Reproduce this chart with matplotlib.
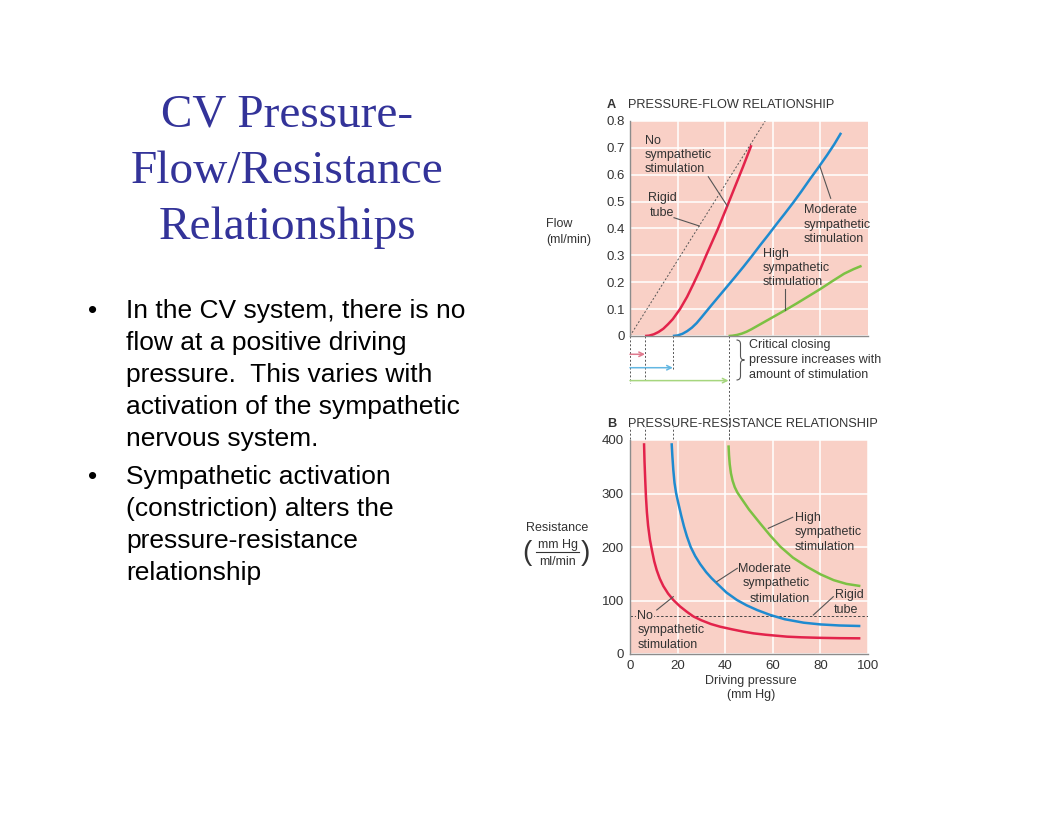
import matplotlib
matplotlib.use("Agg")
import matplotlib.pyplot as plt
from matplotlib.lines import Line2D
from matplotlib.patches import PathPatch
from matplotlib.path import Path

# ---------------- data ----------------
# Panel A: pressure (mm Hg) vs flow (ml/min)
red_A_P = [6.3, 8, 10, 12, 14, 16, 18, 21, 24, 26.7, 29.5, 32, 34.5, 37, 40.7, 44, 47.5, 51]
red_A_F = [0, 0.0013, 0.0063, 0.015, 0.027, 0.044, 0.063, 0.10, 0.146, 0.195, 0.248,
           0.30, 0.35, 0.40, 0.48, 0.553, 0.63, 0.71]

blue_A_P = [18, 20, 22, 24, 26, 28, 30, 33.7, 37, 40.7, 44, 47.7, 51, 54.7, 58, 61.8,
            65, 68.8, 72, 75.8, 79, 82.8, 85.8, 88.7]
blue_A_F = [0, 0.002, 0.008, 0.018, 0.031, 0.048, 0.069, 0.109, 0.144, 0.183, 0.218,
            0.258, 0.295, 0.338, 0.375, 0.419, 0.455, 0.499, 0.538, 0.586, 0.625,
            0.673, 0.713, 0.756]

green_A_P = [41.4, 43, 45, 47, 49, 51, 53, 55, 58, 61, 65, 70, 75, 80, 85, 90, 94, 97.3]
green_A_F = [0, 0.001, 0.004, 0.009, 0.016, 0.025, 0.035, 0.045, 0.06, 0.075, 0.095,
             0.121, 0.148, 0.175, 0.204, 0.232, 0.249, 0.261]

rigid_P = [0, 56.8]
rigid_F = [0, 0.8]

# Panel B: pressure (mm Hg) vs resistance (mm Hg / ml/min)
red_B_P = [5.9, 6.1, 6.4, 6.7, 7.1, 7.6, 8.4, 9.3, 10.2, 11.2, 12.5, 14, 16, 18.2, 21,
           24, 26.7, 30, 34, 37.9, 43, 48, 51.9, 57, 62, 66, 72, 80, 88, 96.8]
red_B_R = [394, 360, 325, 294, 265, 240, 213, 192, 173, 157, 141, 127, 113, 101, 89,
           78.5, 70, 63, 56, 51, 46, 41.5, 38.6, 36, 34, 32.4, 31.2, 30.2, 29.6, 29.3]

blue_B_P = [17.5, 17.8, 18.2, 18.7, 19.4, 20.3, 21.5, 22.7, 23.9, 25.5, 27.4, 29.5, 32,
            34.2, 36.5, 40.5, 44.9, 49, 53.5, 58.9, 65, 73, 80, 88, 96.8]
blue_B_R = [394, 370, 344, 320, 300, 282, 259, 238, 220, 200, 183, 168, 153, 142, 132,
            115, 101, 91, 82, 73, 65, 58.5, 55.3, 53.3, 52.3]

green_B_P = [41.4, 41.6, 41.9, 42.4, 43.1, 44, 45.1, 46.3, 50, 54.7, 59, 63.2, 68.5,
             74.4, 80, 85.6, 91, 96.8]
green_B_R = [390, 372, 355, 338, 324, 312, 302, 294, 270, 244, 221, 200.5, 180, 163,
             149, 138, 131, 127]

rigid_R = 71.6
critical_P = [6.3, 18, 41.4]

xticks = [0, 20, 40, 60, 80, 100]
yticks_A = [0, 0.1, 0.2, 0.3, 0.4, 0.5, 0.6, 0.7, 0.8]
ytick_labels_A = ["0", "0.1", "0.2", "0.3", "0.4", "0.5", "0.6", "0.7", "0.8"]
yticks_B = [0, 100, 200, 300, 400]

title_lines = ["CV Pressure-", "Flow/Resistance", "Relationships"]
bullet1 = ["In the CV system, there is no", "flow at a positive driving",
           "pressure.  This varies with", "activation of the sympathetic",
           "nervous system."]
bullet2 = ["Sympathetic activation", "(constriction) alters the",
           "pressure-resistance", "relationship"]

# ---------------- style ----------------
W, H = 1056, 816
PINK = "#F9D0C6"
RED = "#E3234B"
BLUE = "#1F8BD0"
GREEN = "#7CC143"
TXT = "#333333"
SANS = "Liberation Sans"
SERIF = "Liberation Serif"
LFS = 9.0

fig = plt.figure(figsize=(W / 100, H / 100), dpi=100)
fig.patch.set_facecolor("white")


def fx(x):
    return x / W


def fy(y):
    return 1 - y / H


def txt(x, y, s, size=LFS, color=TXT, ha="left", **kw):
    fig.text(fx(x), fy(y), s, fontsize=size, color=color, ha=ha,
             va="baseline", family=SANS, **kw)


def line(xs, ys, color="#555555", lw=0.8, **kw):
    fig.add_artist(Line2D([fx(v) for v in xs], [fy(v) for v in ys],
                          transform=fig.transFigure, color=color, lw=lw, **kw))


def style_axes(ax):
    ax.set_facecolor(PINK)
    for s in ["top", "right"]:
        ax.spines[s].set_visible(False)
    for s in ["left", "bottom"]:
        ax.spines[s].set_color("#8c8c8c")
        ax.spines[s].set_linewidth(1.0)
    ax.grid(True, color="white", lw=1.1)
    ax.set_axisbelow(True)
    ax.tick_params(length=0, labelsize=9.5, labelcolor=TXT)
    for lab in ax.get_xticklabels() + ax.get_yticklabels():
        lab.set_family(SANS)


# ---------------- left side text ----------------
for s, yb in zip(title_lines, [126.7, 183.3, 239.3]):
    fig.text(fx(287), fy(yb), s, fontsize=34, color="#333399", ha="center",
             va="baseline", family=SERIF)

for i, s in enumerate(bullet1):
    yb = 318 + 32 * i
    if i == 0:
        fig.text(fx(88), fy(yb), "\u2022", fontsize=19, family=SANS, va="baseline")
    fig.text(fx(126), fy(yb), s, fontsize=19, family=SANS, va="baseline")
for i, s in enumerate(bullet2):
    yb = 484 + 32 * i
    if i == 0:
        fig.text(fx(88), fy(yb), "\u2022", fontsize=19, family=SANS, va="baseline")
    fig.text(fx(126), fy(yb), s, fontsize=19, family=SANS, va="baseline")

# ---------------- panel A ----------------
axA = fig.add_axes([fx(630), fy(336), (868 - 630) / W, (336 - 121) / H])
axA.set_xlim(0, 100)
axA.set_ylim(0, 0.8)
axA.set_xticks([20, 40, 60, 80])
axA.set_xticklabels([])
axA.set_yticks(yticks_A)
axA.set_yticklabels(ytick_labels_A)
style_axes(axA)
axA.tick_params(axis="y", pad=3.5)

axA.plot(rigid_P, rigid_F, color="#555555", lw=0.7, dashes=(2, 2))
axA.plot(red_A_P, red_A_F, color=RED, lw=1.8, solid_capstyle="butt")
axA.plot(blue_A_P, blue_A_F, color=BLUE, lw=1.8, solid_capstyle="butt")
axA.plot(green_A_P, green_A_F, color=GREEN, lw=1.8, solid_capstyle="butt")

# dashed drops and arrows below panel A (data x, flow-scale y)
dash_kw = dict(color="#555555", lw=0.7, dashes=(2, 2), clip_on=False)
axA.plot([0, 0], [0, -0.175], **dash_kw)
axA.plot([critical_P[0]] * 2, [0, -0.164], **dash_kw)
axA.plot([critical_P[1]] * 2, [0, -0.127], **dash_kw)
axA.plot([critical_P[2]] * 2, [0, -0.405], **dash_kw)
arrow_cols = ["#E07A8E", "#63B7E2", "#A6D67E"]
arrow_y = [-0.068, -0.118, -0.166]
for cp, ay, col in zip(critical_P, arrow_y, arrow_cols):
    axA.annotate("", xy=(cp, ay), xytext=(0, ay),
                 arrowprops=dict(arrowstyle="->", color=col, lw=1.1,
                                 shrinkA=0, shrinkB=0, mutation_scale=8),
                 annotation_clip=False)

# panel A header / labels
fig.text(fx(607), fy(108.3), "A", fontsize=9.2, weight="bold", family=SANS,
         color=TXT, va="baseline")
txt(628, 108.3, "PRESSURE-FLOW RELATIONSHIP", size=9.2)
txt(546, 227.3, "Flow")
txt(546, 242.5, "(ml/min)")

for s, yb in zip(["No", "sympathetic", "stimulation"], [144.3, 158.3, 172.3]):
    txt(645, yb, s)
line([708.3, 727.3], [176.7, 206])
for s, yb in zip(["Rigid", "tube"], [201, 215.7]):
    txt(662, yb, s, ha="center")
line([674, 699.3], [217.7, 226])
for s, yb in zip(["Moderate", "sympathetic", "stimulation"], [213.3, 227.7, 241.7]):
    txt(804, yb, s)
line([820, 830.7], [166.7, 198.3])
for s, yb in zip(["High", "sympathetic", "stimulation"], [256.7, 270.7, 284.7]):
    txt(762.7, yb, s)
line([785.3, 785.3], [289.3, 310])

# brace and note
bx, by0, by1 = 736.5, 340, 380
ym = (by0 + by1) / 2
codes = [Path.MOVETO, Path.CURVE3, Path.CURVE3, Path.LINETO, Path.CURVE3,
         Path.CURVE3, Path.MOVETO, Path.CURVE3, Path.CURVE3, Path.LINETO,
         Path.CURVE3, Path.CURVE3]
pts = [(bx, by0), (bx + 4, by0), (bx + 4, by0 + 4), (bx + 4, ym - 4),
       (bx + 4, ym), (bx + 8, ym), (bx + 8, ym), (bx + 4, ym), (bx + 4, ym + 4),
       (bx + 4, by1 - 4), (bx + 4, by1), (bx, by1)]
brace = Path([(fx(a), fy(b)) for a, b in pts], codes)
fig.add_artist(PathPatch(brace, transform=fig.transFigure, fill=False,
                         edgecolor="#555555", lw=0.8))
for s, yb in zip(["Critical closing", "pressure increases with", "amount of stimulation"],
                 [348.3, 363.3, 378.3]):
    txt(749, yb, s)

# ---------------- panel B ----------------
axB = fig.add_axes([fx(630), fy(654), (868 - 630) / W, (654 - 440) / H])
axB.set_xlim(0, 100)
axB.set_ylim(0, 400)
axB.set_xticks(xticks)
axB.set_yticks(yticks_B)
style_axes(axB)
axB.tick_params(axis="y", pad=4.5)
axB.tick_params(axis="x", pad=4)

axB.axhline(rigid_R, color="#444444", lw=0.7, dashes=(2.5, 2))
axB.plot(red_B_P, red_B_R, color=RED, lw=1.8, solid_capstyle="butt")
axB.plot(blue_B_P, blue_B_R, color=BLUE, lw=1.8, solid_capstyle="butt")
axB.plot(green_B_P, green_B_R, color=GREEN, lw=1.8, solid_capstyle="butt")

for xv in [0, critical_P[0], critical_P[1], critical_P[2]]:
    axB.plot([xv, xv], [402, 425], **dash_kw)

fig.text(fx(607), fy(426.7), "B", fontsize=9.2, weight="bold", family=SANS,
         color=TXT, va="baseline")
txt(628, 426.7, "PRESSURE-RESISTANCE RELATIONSHIP", size=9.2)

txt(557.5, 530.7, "Resistance", ha="center")
txt(557.5, 548, "mm Hg", ha="center")
txt(557.5, 565, "ml/min", ha="center")
line([536, 579], [552.3, 552.3], color=TXT, lw=0.8)
fig.text(fx(527), fy(552.5), "(", fontsize=20, family=SANS, color=TXT,
         ha="center", va="center")
fig.text(fx(585), fy(552.5), ")", fontsize=20, family=SANS, color=TXT,
         ha="center", va="center")

txt(751, 684, "Driving pressure", ha="center")
txt(751, 698, "(mm Hg)", ha="center")

for s, yb in zip(["High", "sympathetic", "stimulation"], [520.7, 535.5, 550]):
    txt(795, yb, s)
line([768.3, 792.7], [528.3, 517.3])
for s, x0, yb in zip(["Moderate", "sympathetic", "stimulation"],
                     [738.3, 742.7, 749.3], [571.7, 586.3, 601.7]):
    txt(x0, yb, s)
line([716.7, 737.3], [581.7, 568.3])
for s, x0, yb in zip(["Rigid", "tube"], [835, 833.3], [598.3, 612.7]):
    txt(x0, yb, s)
line([813.3, 833.3], [615, 596.7])
fig.text(fx(637), fy(619.3), "No", fontsize=LFS, color=TXT, family=SANS,
         va="baseline", bbox=dict(facecolor=PINK, edgecolor="none", pad=0.6))
for s, yb in zip(["sympathetic", "stimulation"], [633.3, 648.3]):
    txt(637.3, yb, s)
line([656.7, 673.3], [610, 596.7])

fig.savefig("out.png", dpi=100)
